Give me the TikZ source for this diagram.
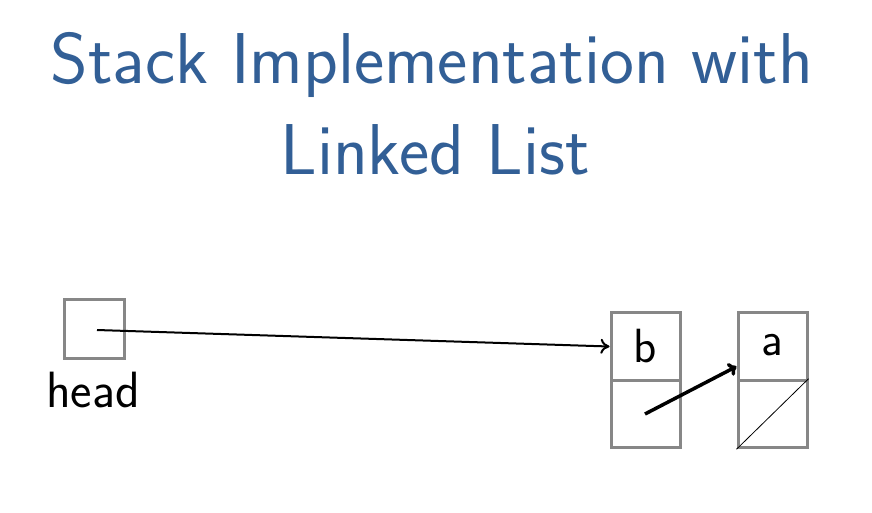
\documentclass[tikz,border=0pt]{standalone}
\usepackage{fontspec}
\newfontfamily\lmsseventeen{lmsans17-regular}[Extension=.otf]
\usetikzlibrary{arrows.meta}
\definecolor{titleblue}{RGB}{50,95,150}
\definecolor{boxgray}{RGB}{135,135,135}
\begin{document}
\begin{tikzpicture}[x=1pt,y=-1pt,
  cell/.style={draw=boxgray,line width=3pt,minimum width=69pt,minimum height=67.5pt,inner sep=0pt,font=\lmsseventeen\fontsize{48}{52}\selectfont},
  ptr/.style={-{To[length=9pt,width=15pt]},line width=2pt},
  ttl/.style={text=titleblue,font=\lmsseventeen\fontsize{72}{90}\selectfont,inner sep=0pt,anchor=base}]
\useasboundingbox (0,0) rectangle (872,512);
\fill[white] (0,0) rectangle (872,512);
\node[ttl] (t1) at (432,83) {Stack Implementation with};
\node[ttl] (t2) at (435,174) {Linked List};
\node[cell,minimum width=60pt,minimum height=59pt] (head) at (94,328.5) {};
\node[anchor=base,inner sep=0pt,font=\lmsseventeen\fontsize{51}{54}\selectfont] (hl) at (93,407) {head};
\node[cell] (btop) at (645.5,346.5) {\raisebox{-3pt}{b}};
\node[cell] (bbot) at (645.5,414) {};
\node[cell] (atop) at (772.5,346.5) {\raisebox{3pt}{a}};
\node[cell] (abot) at (772.5,414) {};
\draw[line width=0.8pt] (abot.south west) -- (abot.north east);
\coordinate (hs) at (97,330);
\coordinate (bs) at (645,414);
\draw[ptr] (hs) -- (btop.west);
\draw[-{To[length=8pt,width=14pt]},line width=3.5pt] (bs) -- ([yshift=-20pt]atop.west);
\end{tikzpicture}
\end{document}
